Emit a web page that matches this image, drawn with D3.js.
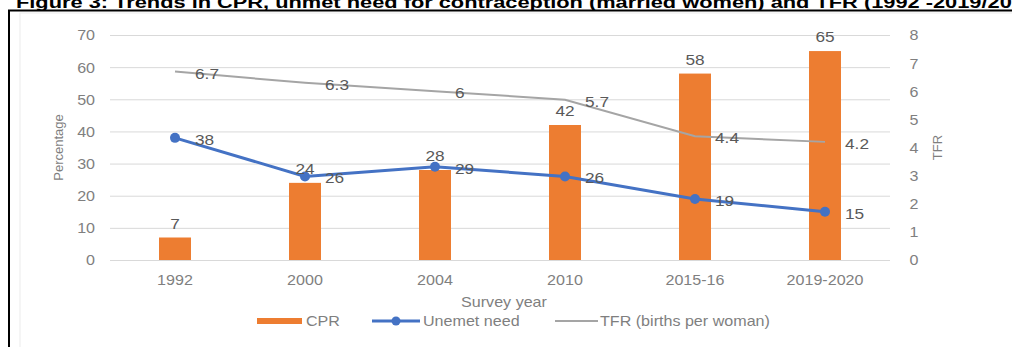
<!DOCTYPE html>
<html>
<head>
<meta charset="utf-8">
<script src="https://cdn.jsdelivr.net/npm/d3@7"></script>
<style>
  html, body { margin: 0; padding: 0; background: #fff; overflow: hidden; }
  svg { display: block; font-family: "Liberation Sans", Arial, sans-serif; }
</style>
</head>
<body>
<svg id="chart" width="1012" height="347"></svg>
<script>
// ---- data ----
const categories = ["1992", "2000", "2004", "2010", "2015-16", "2019-2020"];
const cprValues = [7, 24, 28, 42, 58, 65];
const unmetValues = [38, 26, 29, 26, 19, 15];
const tfrValues = [6.7, 6.3, 6, 5.7, 4.4, 4.2];
const leftTicks = [0, 10, 20, 30, 40, 50, 60, 70];
const rightTicks = [0, 1, 2, 3, 4, 5, 6, 7, 8];
const titleText = "Figure 3: Trends in CPR, unmet need for contraception (married women) and TFR (1992 -2019/2020)";
const legendLabels = ["CPR", "Unemet need", "TFR (births per woman)"];

// ---- layout ----
const W = 1012, H = 347;
const plot = { left: 110, right: 890, top: 35, bottom: 260 };
const SX = 1.15; // horizontal stretch of the text in the reference
const cOrange = "#ED7D31", cBlue = "#4472C4", cGray = "#A5A5A5";
const cLabel = "#595959", cTick = "#7f7f7f";

const svg = d3.select("#chart");

// title & frame
const title = svg.append("text")
  .attr("font-weight", "bold").attr("font-size", 17).attr("fill", "#000")
  .text(titleText);
// stretch so that the visible part "... (1992 -2019/20" reaches the right edge like the reference
const visibleLen = titleText.indexOf("2019/20") + 7;
const subW = title.node().getSubStringLength(0, visibleLen);
const tScale = (W - 16) / subW;
title.attr("transform", `translate(16,8) scale(${tScale},1)`);

svg.append("rect").attr("x", 20).attr("y", 13).attr("width", W).attr("height", H)
  .attr("fill", "none").attr("stroke", "#ececec").attr("stroke-width", 1);
svg.append("path").attr("d", `M9,${H + 5}V10.5H${W + 5}`)
  .attr("fill", "none").attr("stroke", "#000").attr("stroke-width", 2);

const x = d3.scaleBand().domain(categories).range([plot.left, plot.right])
  .paddingInner(0.754).paddingOuter(0.377);
const yL = d3.scaleLinear().domain([0, 70]).range([plot.bottom, plot.top]);
const yR = d3.scaleLinear().domain([0, 8]).range([plot.bottom, plot.top]);
const cx = d => x(d) + x.bandwidth() / 2;

function stretchedText(parent, tx, ty, str, anchor, size, fill) {
  return parent.append("text")
    .attr("transform", `translate(${tx},${ty}) scale(${SX},1)`)
    .attr("text-anchor", anchor).attr("font-size", size).attr("fill", fill)
    .text(str);
}

// gridlines
const grid = svg.append("g").attr("transform", `translate(${plot.left},0)`)
  .call(d3.axisLeft(yL).tickValues(leftTicks).tickSize(-(plot.right - plot.left)).tickFormat(""));
grid.select(".domain").remove();
grid.selectAll(".tick line").attr("stroke", "#d9d9d9").attr("stroke-width", 1);

// left axis
const ax = svg.append("g").attr("transform", `translate(${plot.left},0)`)
  .call(d3.axisLeft(yL).tickValues(leftTicks).tickSize(0).tickPadding(0));
ax.select(".domain").remove();
ax.selectAll(".tick text").attr("x", -13).attr("dy", "0.35em")
  .attr("transform", `scale(${SX},1)`).attr("font-size", 14).attr("fill", cTick)
  .attr("font-family", null);

// right axis
const ar = svg.append("g").attr("transform", `translate(${plot.right},0)`)
  .call(d3.axisRight(yR).tickValues(rightTicks).tickSize(0).tickPadding(0));
ar.select(".domain").remove();
ar.selectAll(".tick text").attr("x", 17).attr("dy", "0.35em")
  .attr("transform", `scale(${SX},1)`).attr("font-size", 14).attr("fill", cTick)
  .attr("font-family", null);

// bottom axis
const ab = svg.append("g").attr("transform", `translate(0,${plot.bottom})`)
  .call(d3.axisBottom(x).tickSize(0).tickPadding(0));
ab.select(".domain").remove();
ab.selectAll(".tick text").attr("y", 25).attr("dy", 0).attr("x", 0)
  .attr("transform", `scale(${SX},1)`).attr("font-size", 14).attr("fill", cTick)
  .attr("font-family", null);

// axis titles
svg.append("text").attr("transform", `translate(58,${(plot.top + plot.bottom) / 2}) rotate(-90)`)
  .attr("text-anchor", "middle").attr("dy", "0.35em").attr("font-size", 13).attr("fill", cTick)
  .text("Percentage");
svg.append("text").attr("transform", `translate(937,${(plot.top + plot.bottom) / 2}) rotate(-90)`)
  .attr("text-anchor", "middle").attr("dy", "0.35em").attr("font-size", 13).attr("fill", cTick)
  .text("TFR");
stretchedText(svg, (plot.left + plot.right) / 2 + 4, 307, "Survey year", "middle", 14, cTick);

// bars
svg.append("g").selectAll("rect").data(categories).join("rect")
  .attr("x", d => x(d)).attr("width", x.bandwidth())
  .attr("y", (d, i) => yL(cprValues[i]))
  .attr("height", (d, i) => yL(0) - yL(cprValues[i]))
  .attr("fill", cOrange);

// TFR line
svg.append("path")
  .datum(categories)
  .attr("d", d3.line().x(d => cx(d)).y((d, i) => yR(tfrValues[i])))
  .attr("fill", "none").attr("stroke", cGray).attr("stroke-width", 2);

// Unmet need line
svg.append("path")
  .datum(categories)
  .attr("d", d3.line().x(d => cx(d)).y((d, i) => yL(unmetValues[i])))
  .attr("fill", "none").attr("stroke", cBlue).attr("stroke-width", 3);
svg.append("g").selectAll("circle").data(categories).join("circle")
  .attr("cx", d => cx(d)).attr("cy", (d, i) => yL(unmetValues[i])).attr("r", 5)
  .attr("fill", cBlue);

// data labels
const labels = svg.append("g");
categories.forEach((c, i) => {
  stretchedText(labels, cx(c), yL(cprValues[i]) - 9, String(cprValues[i]), "middle", 15, cLabel);
  stretchedText(labels, cx(c) + 20, yL(unmetValues[i]) + 7, String(unmetValues[i]), "start", 15, cLabel);
  stretchedText(labels, cx(c) + 20, yR(tfrValues[i]) + 7, String(tfrValues[i]), "start", 15, cLabel);
});

// legend
const lg = svg.append("g");
const ly = 321;
lg.append("rect").attr("x", 257).attr("y", ly - 3).attr("width", 45).attr("height", 6).attr("fill", cOrange);
stretchedText(lg, 306, ly + 5, legendLabels[0], "start", 14, cTick);
lg.append("line").attr("x1", 372).attr("x2", 420).attr("y1", ly).attr("y2", ly)
  .attr("stroke", cBlue).attr("stroke-width", 3);
lg.append("circle").attr("cx", 396).attr("cy", ly).attr("r", 4.5).attr("fill", cBlue);
stretchedText(lg, 423, ly + 5, legendLabels[1], "start", 14, cTick);
lg.append("line").attr("x1", 555).attr("x2", 598).attr("y1", ly).attr("y2", ly)
  .attr("stroke", cGray).attr("stroke-width", 2);
stretchedText(lg, 600, ly + 5, legendLabels[2], "start", 14, cTick);
</script>
</body>
</html>
